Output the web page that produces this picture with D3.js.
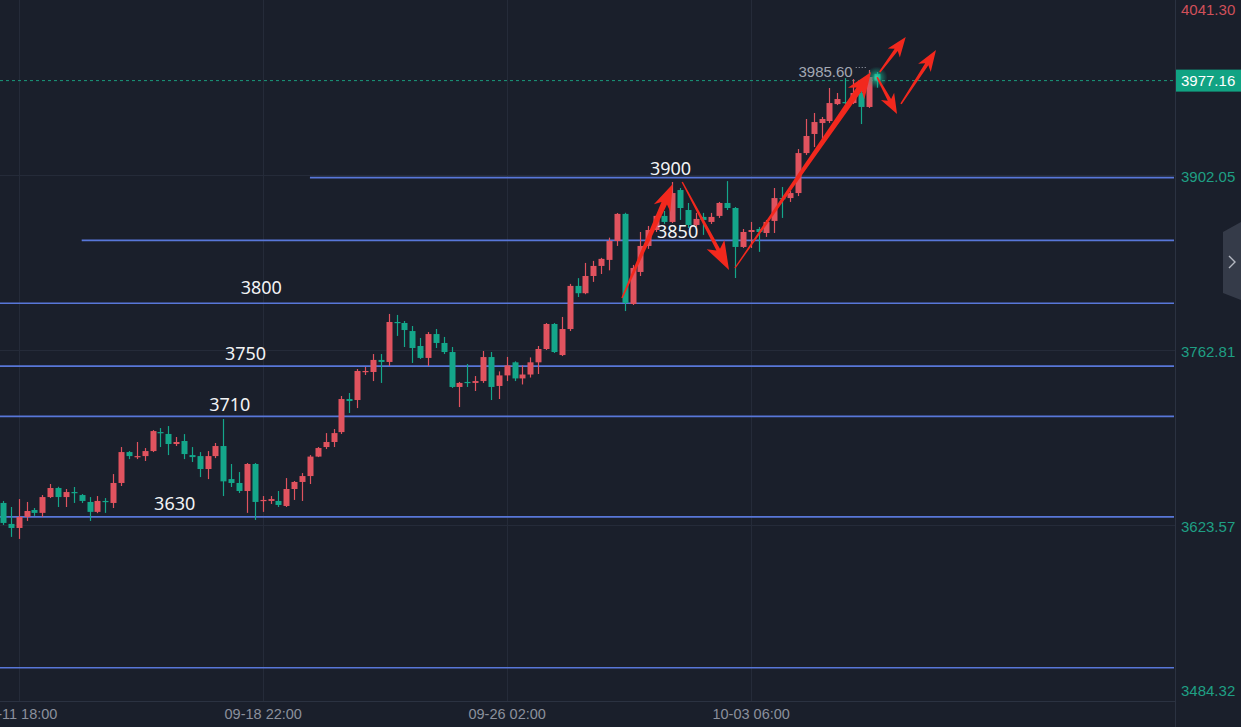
<!DOCTYPE html>
<html><head><meta charset="utf-8">
<script src="https://cdn.jsdelivr.net/npm/d3@7"></script>
<style>html,body{margin:0;padding:0;background:#1a1f2b;overflow:hidden}</style>
</head><body><svg id="c" width="1241" height="727"></svg>
<script>
// ---------- data ----------
const opens  = [3641.1,3624.4,3621.2,3630.0,3635.5,3633.2,3645.8,3653.0,3645.8,3649.8,3647.4,3641.9,3634.0,3642.7,3641.1,3657.0,3681.6,3677.6,3678.4,3682.4,3697.5,3696.0,3688.0,3690.4,3679.2,3678.4,3668.1,3678.4,3686.4,3660.1,3657.0,3650.6,3672.1,3642.7,3642.7,3642.7,3638.7,3652.2,3657.8,3662.5,3678.0,3685.6,3689.6,3697.5,3723.8,3723.0,3745.3,3745.3,3754.9,3753.3,3785.1,3784.3,3777.9,3766.0,3756.5,3775.5,3768.4,3761.2,3733.4,3737.4,3736.6,3738.1,3757.2,3734.2,3742.6,3753.0,3740.2,3743.3,3753.0,3763.6,3783.5,3758.8,3779.5,3813.8,3808.0,3821.7,3829.7,3834.5,3849.6,3871.1,3799.4,3824.9,3845.6,3858.3,3869.5,3864.7,3890.1,3874.2,3862.3,3868.7,3864.7,3869.5,3879.8,3875.8,3844.8,3856.7,3859.1,3855.9,3865.5,3883.7,3883.7,3887.7,3919.5,3934.7,3943.4,3945.0,3958.5,3960.1,3959.3,3967.3,3956.2,3982.5];
const highs  = [3642.7,3637.9,3644.2,3641.9,3637.1,3647.4,3656.2,3654.0,3652.2,3653.8,3648.2,3645.8,3646.6,3645.0,3664.1,3685.6,3682.4,3689.6,3684.8,3699.1,3700.7,3702.3,3693.6,3695.9,3685.6,3681.6,3682.4,3688.8,3707.9,3672.1,3665.7,3672.9,3672.9,3646.6,3646.6,3650.6,3660.9,3658.6,3664.9,3679.2,3685.6,3696.7,3699.9,3726.2,3728.6,3747.7,3749.3,3759.6,3759.6,3791.5,3790.7,3785.9,3781.9,3772.4,3777.1,3779.5,3773.2,3765.2,3737.4,3751.7,3742.1,3762.0,3761.2,3745.8,3757.3,3753.8,3750.5,3756.9,3766.0,3784.3,3784.3,3789.1,3815.4,3820.0,3832.1,3833.7,3836.1,3852.2,3871.8,3872.0,3830.5,3856.7,3861.5,3870.3,3873.4,3896.5,3891.7,3879.8,3871.9,3871.9,3871.9,3880.6,3897.2,3876.6,3859.1,3864.7,3860.7,3866.3,3891.7,3892.5,3889.3,3922.7,3946.6,3951.4,3948.2,3971.3,3967.3,3979.2,3978.4,3970.5,3985.6,3984.0];
const lows   = [3623.6,3614.1,3612.5,3626.8,3630.8,3630.0,3645.0,3637.9,3637.9,3641.1,3641.1,3626.8,3633.0,3633.2,3637.1,3654.6,3676.0,3676.0,3674.5,3681.6,3685.6,3679.2,3686.4,3676.0,3673.7,3661.7,3660.1,3676.8,3646.6,3653.8,3649.0,3633.2,3627.6,3634.0,3640.3,3637.9,3637.9,3643.5,3642.7,3656.2,3677.6,3684.0,3685.6,3696.0,3712.7,3716.6,3742.9,3738.1,3736.6,3750.1,3774.0,3765.2,3752.5,3755.7,3750.1,3764.4,3759.6,3732.6,3717.4,3733.4,3730.2,3736.6,3723.0,3723.8,3738.1,3738.1,3735.4,3740.9,3743.7,3762.8,3760.4,3758.0,3777.9,3805.0,3807.2,3817.0,3823.3,3826.2,3845.6,3793.8,3798.6,3821.7,3843.3,3856.7,3863.2,3863.9,3866.3,3859.9,3860.7,3854.4,3863.1,3867.9,3874.2,3820.1,3844.0,3844.0,3840.9,3852.8,3855.9,3867.9,3880.6,3885.3,3918.0,3924.3,3930.3,3943.4,3957.7,3958.5,3958.5,3942.6,3955.4,3971.5];
const closes = [3625.2,3621.2,3630.0,3634.7,3633.2,3645.8,3653.0,3645.8,3649.8,3649.0,3642.7,3634.0,3642.7,3641.9,3657.0,3681.6,3678.4,3678.4,3682.4,3698.3,3696.7,3688.0,3689.6,3680.0,3677.6,3668.1,3678.4,3686.4,3658.3,3657.0,3650.6,3672.1,3641.9,3643.5,3644.2,3639.5,3652.2,3657.8,3662.5,3678.0,3684.8,3689.6,3696.7,3723.8,3722.2,3746.1,3746.1,3754.9,3753.3,3785.1,3784.3,3778.7,3764.4,3756.5,3775.5,3768.4,3761.2,3733.4,3736.6,3736.6,3738.1,3757.2,3733.4,3742.6,3750.5,3740.2,3743.3,3753.0,3763.6,3783.5,3761.2,3779.5,3813.8,3808.0,3821.7,3829.7,3835.3,3849.6,3871.1,3800.2,3828.1,3845.6,3858.3,3869.5,3864.7,3887.7,3875.8,3862.3,3867.1,3866.3,3868.7,3879.8,3875.8,3844.8,3856.7,3858.3,3856.7,3864.7,3883.7,3882.9,3887.7,3919.5,3933.1,3944.2,3946.6,3959.3,3962.5,3959.3,3967.3,3956.2,3980.0,3977.16];

const timeTickIdx    = [2, 33, 64, 95];
const timeTickLabels = ["09-11 18:00", "09-18 22:00", "09-26 02:00", "10-03 06:00"];
const priceTicks     = [3902.05, 3762.81, 3623.57];
const priceTop = 4041.30, priceBottom = 3484.32;
const lastPrice = 3977.16;
const peakPrice = 3985.60, peakIdx = 110;

const levels       = [3900, 3850, 3800, 3750, 3710, 3630, 3510];
const levelLabels  = ["3900", "3850", "3800", "3750", "3710", "3630", ""];
const levelFromIdx = [39, 10, -1, -1, -1, -1, -1];

// arrows: [idx, price]
const arrowFrom = [[78.65,3804.2],[86.3,3896.5],[93.0,3828.0],[111.4,3984.0],[111.06,3980.0],[114.1,3958.6]];
const arrowTo   = [[85.1,3894.9],[92.25,3826.5],[110.3,3984.0],[114.7,4011.9],[113.6,3950.6],[118.55,4001.5]];

// ---------- layout / style ----------
const W = 1241, H = 727, plotR = 1175, plotB = 701;
const labelAtIdx = [82.2, 83.1, 30.2, 28.2, 26.2, 19.2, 0];
const labelLift  = [3, 2, 9, 6, 5, 7, 0];
const arrowStyle = [[1.5,6,21,9],[1.4,4,23,10],[1.2,6.5,21,10],[1.6,3.8,16,7.5],[1.6,3.8,16,7.5],[1.6,3.8,17,7.5]];
const UP = "#e0535f", DOWN = "#14a68a", BG = "#1a1f2b", GRID = "#252b39", LEVEL = "#5877d9";

const svg = d3.select("#c");
svg.append("rect").attr("width", W).attr("height", H).attr("fill", BG);

const x = d3.scaleLinear().domain([0, 111]).range([3, 876.6]);
const y = d3.scaleLinear().domain([priceBottom, priceTop]).range([700, 0]);

const defs = svg.append("defs");
defs.append("clipPath").attr("id", "plot").append("rect").attr("x", 0).attr("y", 0).attr("width", plotR).attr("height", plotB);
const rg = defs.append("radialGradient").attr("id", "glow");
rg.append("stop").attr("offset", "0%").attr("stop-color", "#3fe0b5").attr("stop-opacity", 0.9);
rg.append("stop").attr("offset", "45%").attr("stop-color", "#18b48e").attr("stop-opacity", 0.5);
rg.append("stop").attr("offset", "100%").attr("stop-color", "#14a68a").attr("stop-opacity", 0);

const plot = svg.append("g").attr("clip-path", "url(#plot)");

// grid
plot.selectAll(".hg").data(priceTicks).join("line")
  .attr("x1", 0).attr("x2", plotR).attr("y1", d => Math.round(y(d)) + 0.5).attr("y2", d => Math.round(y(d)) + 0.5)
  .attr("stroke", GRID).attr("stroke-width", 1);
plot.selectAll(".vg").data(timeTickIdx).join("line")
  .attr("y1", 0).attr("y2", plotB).attr("x1", d => Math.round(x(d)) + 0.5).attr("x2", d => Math.round(x(d)) + 0.5)
  .attr("stroke", GRID).attr("stroke-width", 1);

// level lines
plot.selectAll(".lvl").data(levels).join("line")
  .attr("x1", (d, i) => Math.max(0, x(levelFromIdx[i]))).attr("x2", plotR - 1)
  .attr("y1", d => y(d)).attr("y2", d => y(d))
  .attr("stroke", LEVEL).attr("stroke-width", 1.6);

// current price dashed line
plot.append("line").attr("x1", 0).attr("x2", plotR).attr("y1", y(lastPrice)).attr("y2", y(lastPrice))
  .attr("stroke", "#1a9a7c").attr("stroke-width", 1).attr("stroke-dasharray", "3,3");

// candles
const candles = d3.range(opens.length).map(i => ({i, o: opens[i], h: highs[i], l: lows[i], c: closes[i]}));
const cg = plot.append("g");
cg.selectAll(".wick").data(candles).join("line")
  .attr("x1", d => Math.round(x(d.i)) + 0.5).attr("x2", d => Math.round(x(d.i)) + 0.5)
  .attr("y1", d => y(d.h)).attr("y2", d => y(d.l))
  .attr("stroke", d => d.c >= d.o ? UP : DOWN).attr("stroke-width", 1.2);
const bw = 6;
cg.selectAll(".body").data(candles).join("rect")
  .attr("x", d => Math.round(x(d.i)) + 0.5 - bw / 2)
  .attr("width", bw)
  .attr("y", d => y(Math.max(d.o, d.c)))
  .attr("height", d => Math.max(1.2, Math.abs(y(d.o) - y(d.c))))
  .attr("fill", d => d.c >= d.o ? UP : DOWN);

// glow on last candle
plot.append("circle").attr("cx", x(opens.length - 1)).attr("cy", y(lastPrice) - 3).attr("r", 11).attr("fill", "url(#glow)");

// level labels
plot.selectAll(".lvlt").data(levels).join("text")
  .attr("x", (d, i) => x(labelAtIdx[i]))
  .attr("y", (d, i) => y(d) - labelLift[i])
  .attr("fill", "#f2f3f5").attr("font-family", "'Noto Sans', 'Open Sans', sans-serif").attr("font-size", 18)
  .text((d, i) => levelLabels[i]);

// peak annotation
plot.append("text").attr("x", x(peakIdx) - 16).attr("y", y(peakPrice) + 7).attr("text-anchor", "end")
  .attr("fill", "#a3a8b3").attr("font-family", "'Liberation Sans', Arial, sans-serif").attr("font-size", 15)
  .text(peakPrice.toFixed(2));
plot.append("line").attr("x1", x(peakIdx) - 13).attr("x2", x(peakIdx) - 1)
  .attr("y1", y(peakPrice) - 2.5).attr("y2", y(peakPrice) - 2.5)
  .attr("stroke", "#a3a8b3").attr("stroke-width", 1).attr("stroke-dasharray", "1,2");

// arrows
function arrowPoly(x1, y1, x2, y2, w0, w1, hl, hw) {
  const dx = x2 - x1, dy = y2 - y1, L = Math.hypot(dx, dy);
  const ux = dx / L, uy = dy / L, nx = -uy, ny = ux;
  const bx = x2 - ux * hl, by = y2 - uy * hl;
  const notch = hl * 0.25;
  const bbx = bx - ux * notch, bby = by - uy * notch;
  return [
    [x1 + nx * w0 / 2, y1 + ny * w0 / 2],
    [bx + nx * w1 / 2, by + ny * w1 / 2],
    [bbx + nx * hw, bby + ny * hw],
    [x2, y2],
    [bbx - nx * hw, bby - ny * hw],
    [bx - nx * w1 / 2, by - ny * w1 / 2],
    [x1 - nx * w0 / 2, y1 - ny * w0 / 2]
  ];
}
svg.append("g").selectAll("polygon").data(arrowFrom).join("polygon")
  .attr("points", (d, i) => {
    const s = arrowStyle[i];
    return arrowPoly(x(d[0]), y(d[1]), x(arrowTo[i][0]), y(arrowTo[i][1]), s[0], s[1], s[2], s[3]).map(p => p.join(",")).join(" ");
  })
  .attr("fill", "#f2281d");

// axis separators
svg.append("line").attr("x1", plotR + 0.5).attr("x2", plotR + 0.5).attr("y1", 0).attr("y2", H).attr("stroke", "#2b3241");
svg.append("line").attr("x1", 0).attr("x2", plotR).attr("y1", plotB + 0.5).attr("y2", plotB + 0.5).attr("stroke", "#2b3241");

// bottom axis
const xa = svg.append("g").attr("transform", `translate(0,${plotB})`)
  .call(d3.axisBottom(x).tickValues(timeTickIdx).tickFormat((d, i) => timeTickLabels[i]).tickSize(0).tickPadding(8));
xa.select(".domain").remove();
xa.selectAll("text").attr("fill", "#8b909c").attr("font-family", "'Liberation Sans', Arial, sans-serif").attr("font-size", 14.5);

// right axis
const ya = svg.append("g").attr("transform", `translate(${plotR},0)`)
  .call(d3.axisRight(y).tickValues(priceTicks).tickFormat(d3.format(".2f")).tickSize(0).tickPadding(6));
ya.select(".domain").remove();
ya.selectAll("text").attr("fill", "#1f9f84").attr("font-family", "'Liberation Sans', Arial, sans-serif").attr("font-size", 15).attr("dy", "0.45em");

const axFont = "'Liberation Sans', Arial, sans-serif";
svg.append("text").attr("x", plotR + 6).attr("y", y(priceTop) + 15).attr("fill", "#d0505a")
  .attr("font-family", axFont).attr("font-size", 15).text(priceTop.toFixed(2));
svg.append("text").attr("x", plotR + 6).attr("y", y(priceBottom) - 4).attr("fill", "#1f9f84")
  .attr("font-family", axFont).attr("font-size", 15).text(priceBottom.toFixed(2));

// last price box
svg.append("rect").attr("x", plotR + 1).attr("y", y(lastPrice) - 11).attr("width", W - plotR - 1).attr("height", 22).attr("fill", "#11a383");
svg.append("text").attr("x", plotR + 6).attr("y", y(lastPrice) + 5.5).attr("fill", "#ffffff")
  .attr("font-family", axFont).attr("font-size", 15).text(lastPrice.toFixed(2));

// side tab
svg.append("path").attr("d", "M1241,222 L1223,232 L1223,293 L1241,300 Z").attr("fill", "#353b49");
svg.append("path").attr("d", "M1229,256 L1235,262 L1229,268").attr("fill", "none").attr("stroke", "#b4b8c2").attr("stroke-width", 1.4);
</script></body></html>
